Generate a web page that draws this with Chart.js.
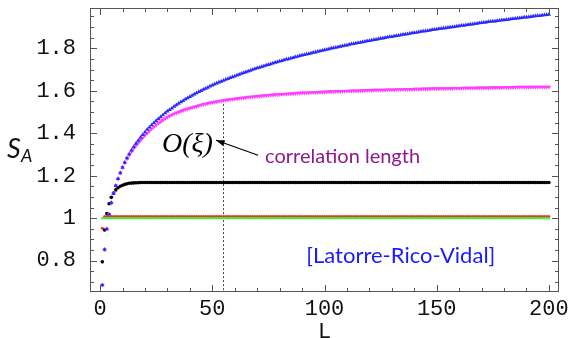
<!DOCTYPE html>
<html lang="en">
<head>
<meta charset="UTF-8">
<title>S_A vs L</title>
<script src="https://cdn.jsdelivr.net/npm/chart.js"></script>
<style>
  html, body { margin: 0; padding: 0; background: #fff; }
</style>
</head>
<body>
<canvas id="chart" width="571" height="338"></canvas>
<script>
// block size L = 1 .. 200
const L = [
  1,2,3,4,5,6,7,8,9,10,11,12,13,14,15,16,17,18,19,20,
  21,22,23,24,25,26,27,28,29,30,31,32,33,34,35,36,37,38,39,40,
  41,42,43,44,45,46,47,48,49,50,51,52,53,54,55,56,57,58,59,60,
  61,62,63,64,65,66,67,68,69,70,71,72,73,74,75,76,77,78,79,80,
  81,82,83,84,85,86,87,88,89,90,91,92,93,94,95,96,97,98,99,100,
  101,102,103,104,105,106,107,108,109,110,111,112,113,114,115,116,117,118,119,120,
  121,122,123,124,125,126,127,128,129,130,131,132,133,134,135,136,137,138,139,140,
  141,142,143,144,145,146,147,148,149,150,151,152,153,154,155,156,157,158,159,160,
  161,162,163,164,165,166,167,168,169,170,171,172,173,174,175,176,177,178,179,180,
  181,182,183,184,185,186,187,188,189,190,191,192,193,194,195,196,197,198,199,200
];

// critical chain: keeps growing
const sBlue = [
  0.685,0.852,0.949,1.018,1.072,1.116,1.153,1.185,1.213,1.239,1.262,1.283,1.302,1.320,1.336,1.352,1.366,1.380,1.393,1.405,
  1.417,1.428,1.439,1.449,1.459,1.468,1.477,1.486,1.495,1.503,1.511,1.518,1.526,1.533,1.540,1.547,1.553,1.560,1.566,1.572,
  1.578,1.584,1.590,1.595,1.600,1.606,1.611,1.616,1.621,1.626,1.631,1.635,1.640,1.644,1.649,1.653,1.657,1.661,1.665,1.669,
  1.673,1.677,1.681,1.685,1.689,1.692,1.696,1.700,1.704,1.707,1.710,1.713,1.717,1.720,1.723,1.726,1.730,1.733,1.736,1.739,
  1.742,1.745,1.748,1.750,1.753,1.756,1.759,1.762,1.765,1.767,1.770,1.772,1.775,1.777,1.780,1.782,1.785,1.787,1.790,1.792,
  1.795,1.797,1.800,1.802,1.804,1.806,1.809,1.811,1.813,1.815,1.818,1.820,1.822,1.824,1.826,1.828,1.830,1.832,1.834,1.836,
  1.838,1.840,1.842,1.844,1.846,1.848,1.850,1.852,1.854,1.855,1.857,1.859,1.861,1.863,1.865,1.866,1.868,1.870,1.872,1.873,
  1.875,1.877,1.879,1.880,1.882,1.883,1.885,1.887,1.889,1.890,1.892,1.893,1.895,1.896,1.898,1.899,1.901,1.902,1.904,1.905,
  1.907,1.908,1.910,1.911,1.913,1.914,1.916,1.917,1.919,1.920,1.922,1.923,1.925,1.926,1.927,1.928,1.930,1.931,1.933,1.934,
  1.935,1.936,1.938,1.939,1.941,1.942,1.943,1.944,1.946,1.947,1.948,1.949,1.951,1.952,1.953,1.954,1.956,1.957,1.958,1.959
];

// near critical: saturates after the correlation length
const sMagenta = [
  0.685,0.852,0.949,1.018,1.072,1.116,1.153,1.185,1.213,1.239,1.261,1.280,1.297,1.313,1.328,1.342,1.355,1.367,1.379,1.390,
  1.401,1.411,1.421,1.430,1.439,1.447,1.455,1.462,1.469,1.476,1.482,1.487,1.492,1.496,1.500,1.504,1.508,1.512,1.515,1.518,
  1.521,1.524,1.527,1.530,1.533,1.536,1.538,1.541,1.543,1.545,1.547,1.549,1.551,1.553,1.555,1.556,1.557,1.559,1.560,1.562,
  1.563,1.565,1.566,1.567,1.568,1.570,1.571,1.572,1.573,1.574,1.575,1.576,1.577,1.578,1.579,1.580,1.581,1.582,1.582,1.583,
  1.584,1.585,1.585,1.586,1.586,1.587,1.588,1.589,1.589,1.590,1.590,1.591,1.591,1.592,1.592,1.593,1.593,1.594,1.594,1.595,
  1.595,1.596,1.596,1.597,1.597,1.597,1.597,1.598,1.598,1.599,1.599,1.600,1.600,1.600,1.600,1.601,1.601,1.602,1.602,1.602,
  1.602,1.603,1.603,1.604,1.604,1.604,1.604,1.605,1.605,1.605,1.605,1.606,1.606,1.606,1.606,1.607,1.607,1.607,1.607,1.608,
  1.608,1.608,1.608,1.609,1.609,1.609,1.609,1.610,1.610,1.610,1.610,1.611,1.611,1.611,1.611,1.611,1.611,1.612,1.612,1.612,
  1.612,1.613,1.613,1.613,1.613,1.613,1.613,1.614,1.614,1.614,1.614,1.614,1.614,1.615,1.615,1.615,1.615,1.615,1.615,1.616,
  1.616,1.616,1.616,1.616,1.616,1.617,1.617,1.617,1.617,1.617,1.617,1.617,1.617,1.618,1.618,1.618,1.618,1.618,1.618,1.618
];

// gapped chain: saturates fast
const sBlack = [
  0.794,0.944,1.022,1.068,1.098,1.118,1.133,1.143,1.150,1.155,1.159,1.162,1.164,1.165,1.166,1.167,1.167,1.168,1.168,1.168,
  1.168,1.168,1.168,1.168,1.168,1.168,1.168,1.168,1.168,1.168,1.168,1.168,1.168,1.168,1.168,1.168,1.168,1.168,1.168,1.168,
  1.168,1.168,1.168,1.168,1.168,1.168,1.168,1.168,1.168,1.168,1.168,1.168,1.168,1.168,1.168,1.168,1.168,1.168,1.168,1.168,
  1.168,1.168,1.168,1.168,1.168,1.168,1.168,1.168,1.168,1.168,1.168,1.168,1.168,1.168,1.168,1.168,1.168,1.168,1.168,1.168,
  1.168,1.168,1.168,1.168,1.168,1.168,1.168,1.168,1.168,1.168,1.168,1.168,1.168,1.168,1.168,1.168,1.168,1.168,1.168,1.168,
  1.168,1.168,1.168,1.168,1.168,1.168,1.168,1.168,1.168,1.168,1.168,1.168,1.168,1.168,1.168,1.168,1.168,1.168,1.168,1.168,
  1.168,1.168,1.168,1.168,1.168,1.168,1.168,1.168,1.168,1.168,1.168,1.168,1.168,1.168,1.168,1.168,1.168,1.168,1.168,1.168,
  1.168,1.168,1.168,1.168,1.168,1.168,1.168,1.168,1.168,1.168,1.168,1.168,1.168,1.168,1.168,1.168,1.168,1.168,1.168,1.168,
  1.168,1.168,1.168,1.168,1.168,1.168,1.168,1.168,1.168,1.168,1.168,1.168,1.168,1.168,1.168,1.168,1.168,1.168,1.168,1.168,
  1.168,1.168,1.168,1.168,1.168,1.168,1.168,1.168,1.168,1.168,1.168,1.168,1.168,1.168,1.168,1.168,1.168,1.168,1.168,1.168
];

const sRed = [
  0.952,1.008,1.008,1.008,1.008,1.008,1.008,1.008,1.008,1.008,1.008,1.008,1.008,1.008,1.008,1.008,1.008,1.008,1.008,1.008,
  1.008,1.008,1.008,1.008,1.008,1.008,1.008,1.008,1.008,1.008,1.008,1.008,1.008,1.008,1.008,1.008,1.008,1.008,1.008,1.008,
  1.008,1.008,1.008,1.008,1.008,1.008,1.008,1.008,1.008,1.008,1.008,1.008,1.008,1.008,1.008,1.008,1.008,1.008,1.008,1.008,
  1.008,1.008,1.008,1.008,1.008,1.008,1.008,1.008,1.008,1.008,1.008,1.008,1.008,1.008,1.008,1.008,1.008,1.008,1.008,1.008,
  1.008,1.008,1.008,1.008,1.008,1.008,1.008,1.008,1.008,1.008,1.008,1.008,1.008,1.008,1.008,1.008,1.008,1.008,1.008,1.008,
  1.008,1.008,1.008,1.008,1.008,1.008,1.008,1.008,1.008,1.008,1.008,1.008,1.008,1.008,1.008,1.008,1.008,1.008,1.008,1.008,
  1.008,1.008,1.008,1.008,1.008,1.008,1.008,1.008,1.008,1.008,1.008,1.008,1.008,1.008,1.008,1.008,1.008,1.008,1.008,1.008,
  1.008,1.008,1.008,1.008,1.008,1.008,1.008,1.008,1.008,1.008,1.008,1.008,1.008,1.008,1.008,1.008,1.008,1.008,1.008,1.008,
  1.008,1.008,1.008,1.008,1.008,1.008,1.008,1.008,1.008,1.008,1.008,1.008,1.008,1.008,1.008,1.008,1.008,1.008,1.008,1.008,
  1.008,1.008,1.008,1.008,1.008,1.008,1.008,1.008,1.008,1.008,1.008,1.008,1.008,1.008,1.008,1.008,1.008,1.008,1.008,1.008
];

const sGreen = [
  1,1,1,1,1,1,1,1,1,1,1,1,1,1,1,1,1,1,1,1,
  1,1,1,1,1,1,1,1,1,1,1,1,1,1,1,1,1,1,1,1,
  1,1,1,1,1,1,1,1,1,1,1,1,1,1,1,1,1,1,1,1,
  1,1,1,1,1,1,1,1,1,1,1,1,1,1,1,1,1,1,1,1,
  1,1,1,1,1,1,1,1,1,1,1,1,1,1,1,1,1,1,1,1,
  1,1,1,1,1,1,1,1,1,1,1,1,1,1,1,1,1,1,1,1,
  1,1,1,1,1,1,1,1,1,1,1,1,1,1,1,1,1,1,1,1,
  1,1,1,1,1,1,1,1,1,1,1,1,1,1,1,1,1,1,1,1,
  1,1,1,1,1,1,1,1,1,1,1,1,1,1,1,1,1,1,1,1,
  1,1,1,1,1,1,1,1,1,1,1,1,1,1,1,1,1,1,1,1
];

const xTicks = [0, 50, 100, 150, 200];
const yTicks = [0.8, 1, 1.2, 1.4, 1.6, 1.8];

// correlation length marker
const corrL = 55;
const corrTop = 1.556;
const xMin = -4.5, xMax = 204.5, yMin = 0.652, yMax = 1.99;

const pts = ys => L.map((v, i) => ({ x: v, y: ys[i] }));

// frame with inward ticks on all four sides, plus the text annotations
const framePlugin = {
  id: 'frame',
  afterDraw(chart) {
    const { ctx, chartArea: a, scales: { x, y } } = chart;
    ctx.save();
    ctx.strokeStyle = '#555';
    ctx.lineWidth = 1;
    ctx.strokeRect(a.left + 0.5, a.top + 0.5, a.right - a.left - 1, a.bottom - a.top - 1);
    ctx.beginPath();
    for (let v = 0; v <= 200; v += 10) {
      const px = Math.round(x.getPixelForValue(v)) + 0.5;
      const len = v % 50 === 0 ? 7 : 4;
      ctx.moveTo(px, a.bottom); ctx.lineTo(px, a.bottom - len);
      ctx.moveTo(px, a.top); ctx.lineTo(px, a.top + len);
    }
    for (let i = 14; i <= 39; i++) {
      const py = Math.round(y.getPixelForValue(i * 0.05)) + 0.5;
      const len = i % 4 === 0 ? 7 : 4;
      ctx.moveTo(a.left, py); ctx.lineTo(a.left + len, py);
      ctx.moveTo(a.right, py); ctx.lineTo(a.right - len, py);
    }
    ctx.stroke();

    // O(xi) label
    ctx.fillStyle = '#000';
    ctx.textBaseline = 'alphabetic';
    ctx.font = 'italic 28px "Liberation Serif"';
    ctx.fillText('O(ξ)', x.getPixelForValue(27.6), y.getPixelForValue(1.31));

    // arrow
    const x1 = x.getPixelForValue(70.4), y1 = y.getPixelForValue(1.296);
    const x2 = x.getPixelForValue(51.7), y2 = y.getPixelForValue(1.367);
    ctx.strokeStyle = '#000';
    ctx.lineWidth = 1.2;
    ctx.beginPath();
    ctx.moveTo(x1, y1); ctx.lineTo(x2, y2);
    ctx.stroke();
    const ang = Math.atan2(y2 - y1, x2 - x1);
    ctx.beginPath();
    ctx.moveTo(x2, y2);
    ctx.lineTo(x2 - 9 * Math.cos(ang - 0.35), y2 - 9 * Math.sin(ang - 0.35));
    ctx.lineTo(x2 - 9 * Math.cos(ang + 0.35), y2 - 9 * Math.sin(ang + 0.35));
    ctx.closePath();
    ctx.fillStyle = '#000';
    ctx.fill();

    ctx.font = '20px Lato';
    ctx.fillStyle = '#8e1a8e';
    ctx.fillText('correlation length', x.getPixelForValue(73.5), y.getPixelForValue(1.259));

    ctx.font = '22px Lato';
    ctx.fillStyle = '#1a1aff';
    ctx.textAlign = 'center';
    ctx.textBaseline = 'middle';
    ctx.fillText('[Latorre-Rico-Vidal]', x.getPixelForValue(134), y.getPixelForValue(0.821));

    // axis titles
    ctx.fillStyle = '#111';
    ctx.font = '22px "Liberation Mono"';
    ctx.fillText('L', (a.left + a.right) / 2, a.bottom + 40);

    ctx.textAlign = 'left';
    ctx.textBaseline = 'alphabetic';
    ctx.font = 'italic 27px Lato';
    ctx.fillText('S', 7, 158);
    ctx.font = 'italic 18px Lato';
    ctx.fillText('A', 21, 162);
    ctx.restore();
  }
};

const tickFont = { family: '"Liberation Mono", monospace', size: 22 };

new Chart(document.getElementById('chart'), {
  type: 'scatter',
  data: {
    datasets: [
      { data: pts(sBlue), pointStyle: 'triangle', pointRadius: 2.5,
        backgroundColor: '#2a2aff', borderWidth: 0 },
      { data: pts(sMagenta), pointStyle: 'triangle', rotation: 180, pointRadius: 2.6,
        backgroundColor: '#ff3cff', borderWidth: 0 },
      { data: pts(sBlack), pointStyle: 'circle', pointRadius: 1.8,
        backgroundColor: '#000', borderWidth: 0 },
      { data: pts(sGreen), pointStyle: 'rect', pointRadius: 1.6,
        backgroundColor: '#33ee33', borderWidth: 0 },
      { data: pts(sRed), pointStyle: 'circle', pointRadius: 1.5,
        backgroundColor: '#ff2a2a', borderWidth: 0 },
      { data: [{ x: corrL, y: corrTop }, { x: corrL, y: yMin }], showLine: true,
        borderColor: '#444', borderWidth: 1, borderDash: [2, 2], pointRadius: 0 }
    ]
  },
  options: {
    responsive: false,
    animation: false,
    events: [],
    layout: { padding: { top: 8, right: 12, left: 0, bottom: 0 } },
    plugins: { legend: { display: false }, tooltip: { enabled: false } },
    scales: {
      x: {
        type: 'linear', min: xMin, max: xMax,
        grid: { display: false }, border: { display: false },
        afterBuildTicks: s => { s.ticks = xTicks.map(v => ({ value: v })); },
        afterFit: s => { s.height = 46; s.paddingLeft = 0; s.paddingRight = 0; },
        ticks: { font: tickFont, color: '#111', padding: -4, maxRotation: 0, autoSkip: false,
                 callback: v => String(v) }
      },
      y: {
        type: 'linear', min: yMin, max: yMax,
        grid: { display: false }, border: { display: false },
        afterBuildTicks: s => { s.ticks = yTicks.map(v => ({ value: v })); },
        afterFit: s => { s.width = 90; s.paddingTop = 0; s.paddingBottom = 0; },
        ticks: { font: tickFont, color: '#111', padding: 6, autoSkip: false,
                 callback: v => String(v) }
      }
    }
  },
  plugins: [framePlugin]
});
</script>
</body>
</html>
